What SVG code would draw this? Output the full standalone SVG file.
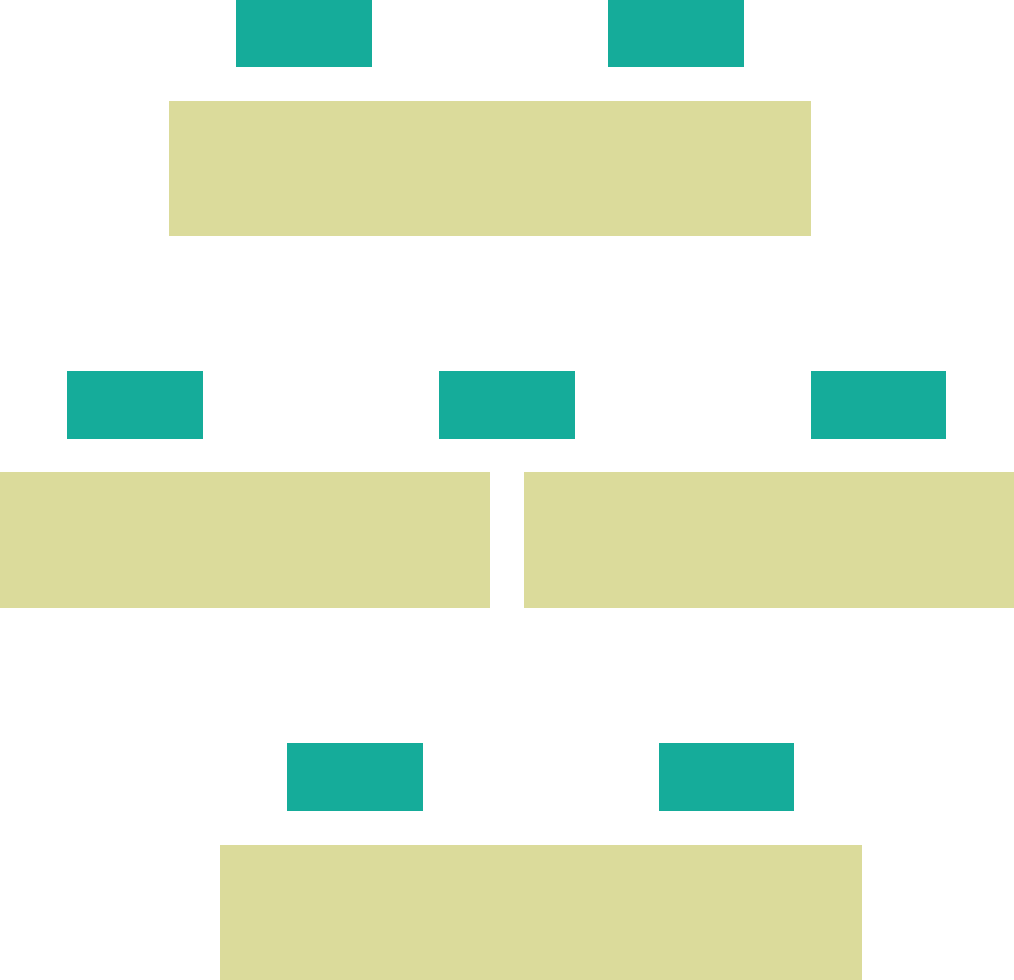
<svg xmlns="http://www.w3.org/2000/svg" width="1014" height="980" viewBox="0 0 1014 980">
<style>
.t{fill:#15ac9a}
.o{fill:#dbdb9b}
</style>
<rect width="1014" height="980" fill="#ffffff"/>
<g id="n1"><rect class="t" x="236" y="0" width="136" height="67"/></g>
<g id="n2"><rect class="t" x="608" y="0" width="136" height="67"/></g>
<g id="n3"><rect class="o" x="169" y="101" width="642" height="135"/></g>
<g id="n4"><rect class="t" x="67" y="371" width="136" height="68"/></g>
<g id="n5"><rect class="t" x="439" y="371" width="136" height="68"/></g>
<g id="n6"><rect class="t" x="811" y="371" width="135" height="68"/></g>
<g id="n7"><rect class="o" x="0" y="472" width="490" height="136"/></g>
<g id="n8"><rect class="o" x="524" y="472" width="490" height="136"/></g>
<g id="n9"><rect class="t" x="287" y="743" width="136" height="68"/></g>
<g id="n10"><rect class="t" x="659" y="743" width="135" height="68"/></g>
<g id="n11"><rect class="o" x="220" y="845" width="642" height="135"/></g>
<g id="connectors"></g>
</svg>
